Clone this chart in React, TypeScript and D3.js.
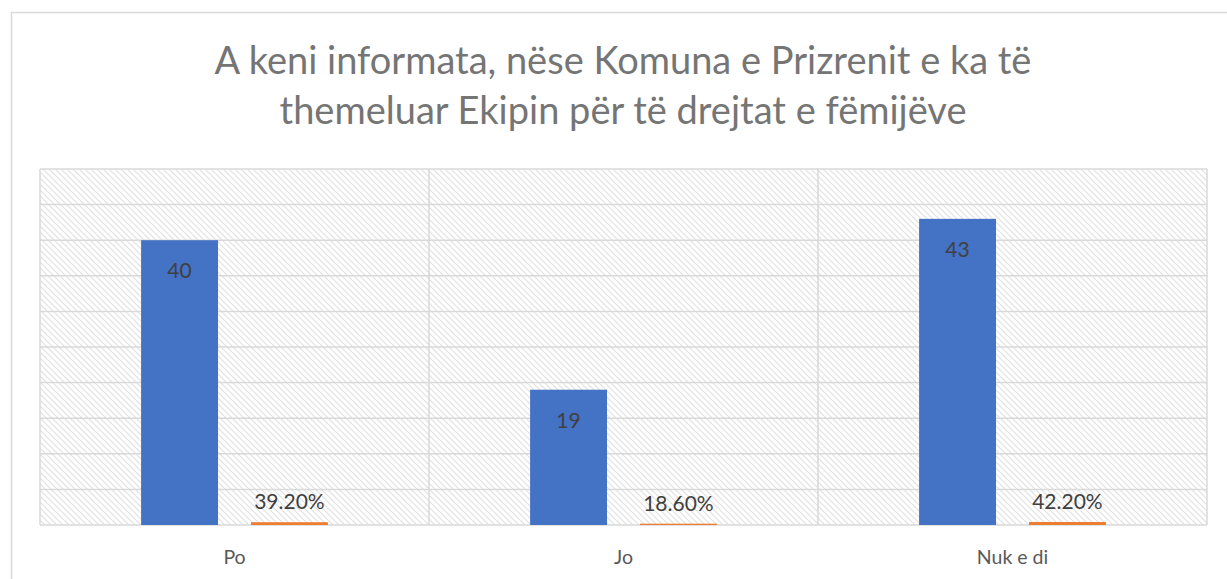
import React, { useEffect, useRef } from 'react';
import * as d3 from 'd3';

const categories = ['Po', 'Jo', 'Nuk e di'];
const counts = [40, 19, 43];
const shares = [0.392, 0.186, 0.422];
const yTicks = [0, 5, 10, 15, 20, 25, 30, 35, 40, 45, 50];
const titleLines = [
    'A keni informata, nëse Komuna e Prizrenit e ka të',
    'themeluar Ekipin për të drejtat e fëmijëve',
];

const App = () => {
    const ref = useRef<SVGSVGElement>(null);

    useEffect(() => {
        drawChart();
    }, []);

    const drawChart = () => {
        const width = 1227, height = 579;
        const plot = { left: 40, top: 169, right: 1207, bottom: 525 };

        const svg = d3.select(ref.current)
            .attr('width', width)
            .attr('height', height);
        svg.selectAll('*').remove();

        // hatch fill of the plot area
        const defs = svg.append('defs');
        defs.append('pattern')
            .attr('id', 'hatch')
            .attr('patternUnits', 'userSpaceOnUse')
            .attr('width', 6)
            .attr('height', 6)
            .append('path')
            .attr('d', 'M0,0 L6,6 M-1,5 L1,7 M5,-1 L7,1')
            .attr('stroke', '#e0e0e0')
            .attr('stroke-width', 1.1);

        svg.append('rect')
            .attr('width', width)
            .attr('height', height)
            .attr('fill', '#fff');

        // chart border
        svg.append('rect')
            .attr('x', 11.5)
            .attr('y', 12.5)
            .attr('width', width)
            .attr('height', height)
            .attr('fill', 'none')
            .attr('stroke', '#d9d9d9')
            .attr('stroke-width', 1.5);

        svg.append('text')
            .attr('x', 623)
            .attr('text-anchor', 'middle')
            .style('font-family', 'Lato, "Open Sans", sans-serif')
            .style('font-size', '38px')
            .attr('fill', '#757575')
            .selectAll('tspan')
            .data(titleLines)
            .enter()
            .append('tspan')
            .attr('x', 623)
            .attr('y', (d, i) => 74 + i * 50)
            .text(d => d);

        const x = d3.scaleBand().domain(categories).range([plot.left, plot.right]);
        const inner = d3.scaleBand().domain(['count', 'share'])
            .range([0, x.bandwidth()])
            .paddingInner(0.3)
            .paddingOuter(0.92);
        const y = d3.scaleLinear().domain([0, 50]).range([plot.bottom, plot.top]);

        svg.append('rect')
            .attr('x', plot.left)
            .attr('y', plot.top)
            .attr('width', plot.right - plot.left)
            .attr('height', plot.bottom - plot.top)
            .attr('fill', 'url(#hatch)');

        // horizontal grid
        svg.append('g')
            .selectAll('line')
            .data(yTicks)
            .enter()
            .append('line')
            .attr('x1', plot.left)
            .attr('x2', plot.right)
            .attr('y1', d => y(d))
            .attr('y2', d => y(d))
            .attr('stroke', '#d9d9d9')
            .attr('stroke-width', 1.5);

        // vertical category borders
        const edges = categories.map(c => x(c)).concat([plot.right]);
        svg.append('g')
            .selectAll('line')
            .data(edges)
            .enter()
            .append('line')
            .attr('x1', d => d)
            .attr('x2', d => d)
            .attr('y1', plot.top)
            .attr('y2', plot.bottom)
            .attr('stroke', '#d9d9d9')
            .attr('stroke-width', 1.5);

        const groups = svg.selectAll('.cat')
            .data(categories)
            .enter()
            .append('g')
            .attr('transform', d => 'translate(' + x(d) + ',0)');

        groups.append('rect')
            .attr('x', inner('count'))
            .attr('width', inner.bandwidth())
            .attr('y', (d, i) => y(counts[i]))
            .attr('height', (d, i) => y(0) - y(counts[i]))
            .attr('fill', '#4472c4');

        groups.append('rect')
            .attr('x', inner('share'))
            .attr('width', inner.bandwidth())
            .attr('y', (d, i) => y(shares[i]))
            .attr('height', (d, i) => y(0) - y(shares[i]))
            .attr('fill', '#ed7d31');

        const labelFont = 'Lato, "Open Sans", sans-serif';

        groups.append('text')
            .attr('x', inner('count') + inner.bandwidth() / 2)
            .attr('y', (d, i) => y(counts[i]) + 38)
            .attr('text-anchor', 'middle')
            .style('font-family', labelFont)
            .style('font-size', '21px')
            .attr('fill', '#404040')
            .text((d, i) => counts[i]);

        groups.append('text')
            .attr('x', inner('share') + inner.bandwidth() / 2)
            .attr('y', (d, i) => y(shares[i]) - 13)
            .attr('text-anchor', 'middle')
            .style('font-family', labelFont)
            .style('font-size', '21px')
            .attr('fill', '#404040')
            .text((d, i) => (shares[i] * 100).toFixed(2) + '%');

        groups.append('text')
            .attr('x', x.bandwidth() / 2)
            .attr('y', 564)
            .attr('text-anchor', 'middle')
            .style('font-family', labelFont)
            .style('font-size', '19.5px')
            .attr('fill', '#595959')
            .text(d => d);
    };

    return <svg ref={ref} style={{ position: 'absolute', left: 0, top: 0 }}></svg>;
};

export default App;
